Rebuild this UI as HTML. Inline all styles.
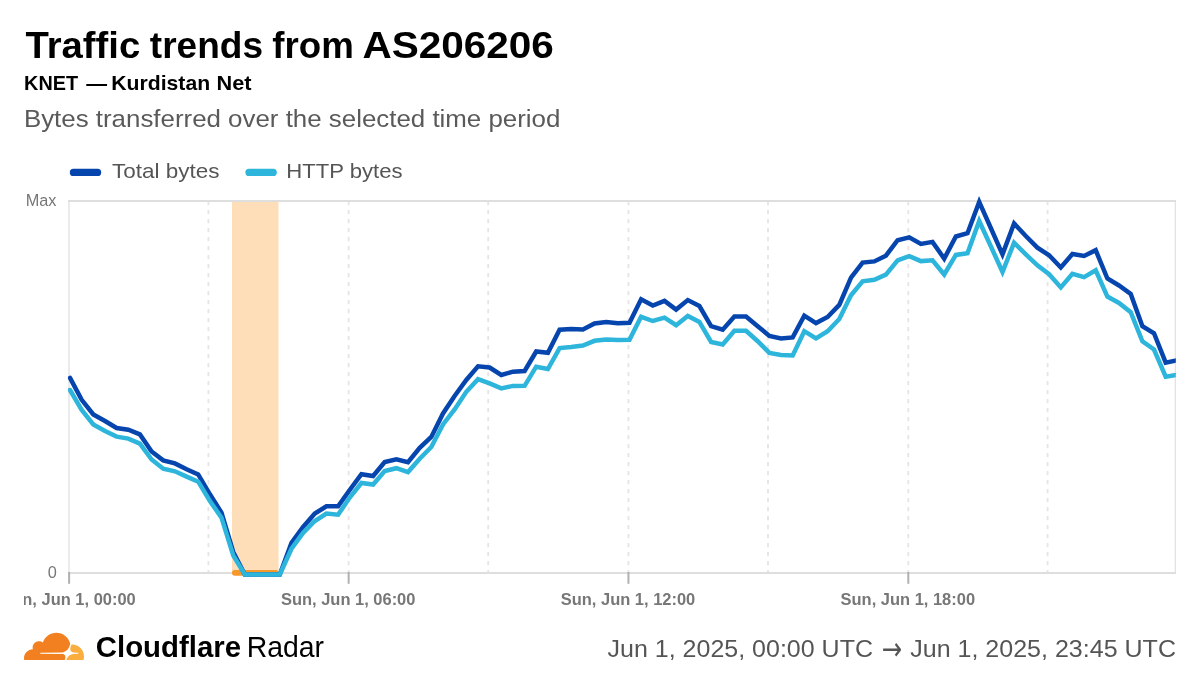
<!DOCTYPE html>
<html lang="en">
<head>
<meta charset="utf-8">
<title>Traffic trends from AS206206</title>
<style>
html,body{margin:0;padding:0;background:#fff;}
body{width:1200px;height:687px;overflow:hidden;font-family:"Liberation Sans",sans-serif;}
svg{display:block;}
text{font-family:"Liberation Sans",sans-serif;}
</style>
</head>
<body>
<svg width="1200" height="687" viewBox="0 0 1200 687">
<rect width="1200" height="687" fill="#ffffff"/>
<!-- header -->
<text y="58" font-size="36.5" font-weight="700" fill="#000"><tspan x="25.4" textLength="114.8" lengthAdjust="spacingAndGlyphs">Traffic</tspan> <tspan x="149.8" textLength="113.2" lengthAdjust="spacingAndGlyphs">trends</tspan> <tspan x="272.3" textLength="81.5" lengthAdjust="spacingAndGlyphs">from</tspan> <tspan x="362.4" textLength="191.5" lengthAdjust="spacingAndGlyphs">AS206206</tspan></text>
<text y="89.8" font-size="19.9" font-weight="700" fill="#000"><tspan x="24.1" textLength="54" lengthAdjust="spacingAndGlyphs">KNET</tspan> <tspan x="86.2" textLength="20.8" lengthAdjust="spacingAndGlyphs">—</tspan> <tspan x="111.3" textLength="98.8" lengthAdjust="spacingAndGlyphs">Kurdistan</tspan> <tspan x="216.6" textLength="35" lengthAdjust="spacingAndGlyphs">Net</tspan></text>
<text x="23.9" y="127.4" font-size="24.2" fill="#5a5a5a" textLength="536.5" lengthAdjust="spacingAndGlyphs">Bytes transferred over the selected time period</text>
<!-- legend -->
<line x1="73.4" y1="172.4" x2="97.6" y2="172.4" stroke="#0645AD" stroke-width="7.2" stroke-linecap="round"/>
<text x="112" y="178" font-size="20.8" fill="#555" textLength="107.5" lengthAdjust="spacingAndGlyphs">Total bytes</text>
<line x1="249" y1="172.4" x2="273.2" y2="172.4" stroke="#2DB5DB" stroke-width="7.2" stroke-linecap="round"/>
<text x="286.3" y="178" font-size="20.8" fill="#555" textLength="116.3" lengthAdjust="spacingAndGlyphs">HTTP bytes</text>
<!-- chart -->
<clipPath id="plot"><rect x="67.7" y="190" width="1108.1" height="392"/></clipPath>
<clipPath id="lbl"><rect x="24" y="585" width="1176" height="30"/></clipPath>
<rect x="232" y="201" width="46.5" height="372" fill="#FEDEB8"/>
<g stroke="#e5e5e5" stroke-width="1.8" stroke-dasharray="4.2 4.8" fill="none"><line x1="208.4" y1="201" x2="208.4" y2="572"/><line x1="348.65" y1="201" x2="348.65" y2="572"/><line x1="488.2" y1="201" x2="488.2" y2="572"/><line x1="628.45" y1="201" x2="628.45" y2="572"/><line x1="768.0" y1="201" x2="768.0" y2="572"/><line x1="908.3" y1="201" x2="908.3" y2="572"/><line x1="1047.6" y1="201" x2="1047.6" y2="572"/></g>
<rect x="68.2" y="200" width="1.6" height="374" fill="#e6e6e6"/><rect x="1174.7" y="200" width="1.3" height="374" fill="#e3e3e3"/><rect x="68.1" y="200" width="1107.9" height="2" fill="#dedede"/><rect x="68.1" y="572" width="1107.9" height="2" fill="#dedede"/>
<g stroke="#b0b0b0" stroke-width="2"><line x1="69.1" y1="572" x2="69.1" y2="583.8"/><line x1="348.65" y1="572" x2="348.65" y2="583.8"/><line x1="628.45" y1="572" x2="628.45" y2="583.8"/><line x1="908.3" y1="572" x2="908.3" y2="583.8"/></g>
<rect x="232" y="570" width="46.5" height="5.8" rx="2.8" fill="#F7982C"/>
<g clip-path="url(#plot)" fill="none" stroke-width="4.5" stroke-linejoin="miter" stroke-miterlimit="10" stroke-linecap="round">
<path d="M70.0,377.9 L81.7,399.8 L93.3,414.4 L105.0,421.0 L116.6,428.0 L128.3,429.7 L139.9,434.4 L151.6,451.5 L163.2,460.4 L174.9,463.4 L186.6,469.2 L198.2,474.4 L209.9,494.3 L221.5,512.7 L233.2,552.0 L244.8,574.5 L256.5,574.5 L268.2,574.5 L279.8,574.5 L291.5,542.8 L303.1,527.0 L314.8,513.5 L326.4,506.3 L338.1,506.3 L349.7,490.0 L361.4,474.2 L373.1,476.0 L384.7,462.0 L396.4,459.2 L408.0,462.1 L419.7,447.8 L431.3,437.0 L443.0,413.5 L454.6,396.0 L466.3,380.0 L478.0,366.3 L489.6,367.5 L501.3,375.0 L512.9,371.7 L524.6,371.0 L536.2,351.5 L547.9,352.8 L559.6,329.7 L571.2,328.9 L582.9,329.4 L594.5,323.5 L606.2,321.9 L617.8,323.2 L629.5,322.7 L641.1,299.3 L652.8,305.6 L664.5,300.9 L676.1,309.6 L687.8,300.1 L699.4,306.0 L711.1,326.2 L722.7,329.7 L734.4,316.4 L746.0,316.6 L757.7,326.2 L769.4,335.9 L781.0,338.4 L792.7,337.4 L804.3,315.6 L816.0,323.1 L827.6,317.0 L839.3,304.9 L851.0,277.6 L862.6,262.6 L874.3,261.4 L885.9,255.7 L897.6,240.2 L909.2,237.4 L920.9,243.9 L932.5,241.9 L944.2,258.6 L955.9,236.5 L967.5,233.2 L979.2,201.9 L990.8,228.0 L1002.5,254.4 L1014.1,223.5 L1025.8,236.0 L1037.4,247.7 L1049.1,255.3 L1060.8,267.5 L1072.4,254.0 L1084.1,256.0 L1095.7,250.2 L1107.4,278.5 L1119.0,285.5 L1130.7,294.0 L1142.4,326.2 L1154.0,333.2 L1165.7,362.7 L1177.3,360.2" stroke="#0645AD"/>
<path d="M70.0,390.0 L81.7,410.0 L93.3,424.4 L105.0,431.0 L116.6,436.6 L128.3,438.6 L139.9,443.6 L151.6,459.5 L163.2,468.7 L174.9,471.3 L186.6,476.6 L198.2,481.7 L209.9,501.0 L221.5,517.7 L233.2,555.4 L244.8,574.5 L256.5,574.5 L268.2,574.5 L279.8,574.5 L291.5,548.7 L303.1,532.8 L314.8,521.0 L326.4,513.5 L338.1,514.7 L349.7,497.6 L361.4,483.0 L373.1,484.5 L384.7,471.0 L396.4,468.2 L408.0,472.1 L419.7,458.7 L431.3,447.0 L443.0,424.4 L454.6,409.4 L466.3,391.8 L478.0,379.2 L489.6,383.4 L501.3,388.4 L512.9,385.9 L524.6,385.8 L536.2,366.7 L547.9,369.0 L559.6,348.1 L571.2,347.0 L582.9,345.6 L594.5,340.8 L606.2,339.4 L617.8,339.9 L629.5,339.8 L641.1,316.8 L652.8,321.0 L664.5,317.7 L676.1,325.2 L687.8,316.0 L699.4,321.9 L711.1,342.0 L722.7,344.5 L734.4,330.7 L746.0,330.8 L757.7,341.2 L769.4,352.9 L781.0,354.9 L792.7,355.4 L804.3,331.2 L816.0,338.4 L827.6,331.2 L839.3,319.0 L851.0,295.2 L862.6,281.3 L874.3,279.8 L885.9,274.6 L897.6,260.3 L909.2,256.1 L920.9,261.1 L932.5,260.3 L944.2,274.5 L955.9,254.9 L967.5,253.3 L979.2,221.0 L990.8,246.2 L1002.5,272.0 L1014.1,242.7 L1025.8,254.4 L1037.4,265.3 L1049.1,274.2 L1060.8,287.4 L1072.4,273.8 L1084.1,277.1 L1095.7,270.3 L1107.4,296.6 L1119.0,302.9 L1130.7,312.2 L1142.4,341.3 L1154.0,349.5 L1165.7,376.7 L1177.3,374.7" stroke="#2DB5DB"/>
</g>
<text x="56.5" y="205.9" font-size="16.3" fill="#777" text-anchor="end">Max</text>
<text x="56.7" y="577.6" font-size="16.3" fill="#777" text-anchor="end">0</text>
<g clip-path="url(#lbl)" font-size="16.3" font-weight="700" fill="#777"><text x="68.5" y="604.5" text-anchor="middle" textLength="134.5" lengthAdjust="spacingAndGlyphs">Sun, Jun 1, 00:00</text><text x="348.2" y="604.5" text-anchor="middle" textLength="134.5" lengthAdjust="spacingAndGlyphs">Sun, Jun 1, 06:00</text><text x="628" y="604.5" text-anchor="middle" textLength="134.5" lengthAdjust="spacingAndGlyphs">Sun, Jun 1, 12:00</text><text x="907.8" y="604.5" text-anchor="middle" textLength="134.5" lengthAdjust="spacingAndGlyphs">Sun, Jun 1, 18:00</text></g>
<!-- footer -->
<g transform="translate(24 616.4) scale(2.5)"><path d="M16.5088 16.8447c.1475-.5068.0908-.9707-.1553-1.3154-.2246-.3164-.6045-.499-1.0615-.5205l-8.6592-.1123a.1559.1559 0 0 1-.1333-.0713c-.0283-.042-.0351-.0986-.021-.1553.0278-.084.1123-.1484.2036-.1562l8.7359-.1123c1.0351-.0489 2.1601-.8868 2.5537-1.9136l.499-1.3013c.0215-.0561.0293-.1128.0147-.168-.5625-2.5463-2.835-4.4453-5.5499-4.4453-2.5039 0-4.6284 1.6177-5.3876 3.8614-.4927-.3658-1.1187-.5625-1.794-.499-1.2026.119-2.1665 1.083-2.2861 2.2856-.0283.31-.0069.6128.0635.894C1.5683 13.171 0 14.7754 0 16.752c0 .1748.0142.3515.0352.5273.0141.083.0844.1475.1689.1475h15.9814c.0909 0 .1758-.0645.2032-.1553l.12-.4268z" fill="#F38020"/><path d="M19.2656 11.2813c-.0771 0-.1611 0-.2383.0112-.0566 0-.1054.0415-.127.0976l-.3378 1.1744c-.1475.5068-.0918.9707.1543 1.3164.2256.3164.6055.498 1.0625.5195l1.8437.1133c.0557 0 .1055.0263.1329.0703.0283.043.0351.1074.0214.1562-.0283.084-.1132.1485-.204.1553l-1.921.1123c-1.041.0488-2.1582.8867-2.5527 1.914l-.1406.3585c-.0283.0713.0215.1416.0986.1416h6.5977c.0771 0 .1474-.0489.169-.126.1122-.4082.1757-.837.1757-1.2803 0-2.6025-2.125-4.727-4.7344-4.727" fill="#FAAE40"/></g>
<text x="95.8" y="657.3" font-size="29" font-weight="700" fill="#000" textLength="145.2" lengthAdjust="spacingAndGlyphs">Cloudflare</text>
<text x="246.7" y="657.3" font-size="29" fill="#000" textLength="77.4" lengthAdjust="spacingAndGlyphs">Radar</text>
<text x="607.5" y="656.7" font-size="24.7" fill="#555" textLength="265.5" lengthAdjust="spacingAndGlyphs">Jun 1, 2025, 00:00 UTC</text>
<text transform="translate(883.3 659.8) scale(0.76 1)" x="-1.9" y="0" font-size="32" fill="#555" style="font-family:'DejaVu Sans',sans-serif">→</text>
<text x="910.2" y="656.7" font-size="24.7" fill="#555" textLength="265.8" lengthAdjust="spacingAndGlyphs">Jun 1, 2025, 23:45 UTC</text>
</svg>
</body>
</html>
